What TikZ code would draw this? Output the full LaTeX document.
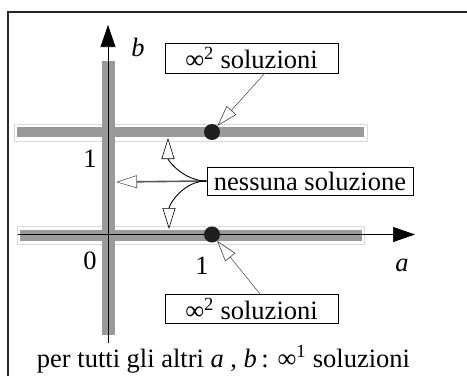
\documentclass[tikz,border=0pt]{standalone}
\usepackage{fontspec}
\setmainfont{Liberation Serif}
\usetikzlibrary{arrows.meta}
\tikzset{
  txt/.style={font=\fontsize{26.5}{30}\selectfont, inner sep=0pt},
  box/.style={txt, draw, line width=1pt, inner sep=0pt},
  band/.style={fill=black!40, draw=none},
  bandout/.style={draw=black!15, line width=0.6pt, fill=white},
  dot/.style={circle, fill=black!88, minimum size=16pt, inner sep=0pt},
  axis/.style={line width=0.7pt, -{Triangle[length=22pt, width=15pt]}},
  opentip/.style={-{Triangle[open, length=21pt, width=13pt, line width=0.6pt, fill=white]}},
  thinarrow/.style={opentip, draw=black!75, line width=0.5pt},
  curvearrow/.style={opentip, draw=black, line width=0.9pt},
  straightarrow/.style={-{Triangle[open, length=21pt, width=13pt, line width=0.6pt]}, draw=black!65, line width=1.6pt},
}
\begin{document}
\begin{tikzpicture}[x=1pt, y=-1pt]
\useasboundingbox (0,0) rectangle (467,376);
% frame (only top and left visible)
\draw[line width=2pt, black!85] (8,376) -- (8,12) -- (467,12);
% bands
\draw[bandout] (14,124) rectangle (367,141);
\fill[band] (17,127) rectangle (364,137);
\draw[bandout] (17,226) rectangle (364,244);
\fill[band] (20,229.5) rectangle (362,241);
\fill[band] (102,61) rectangle (115,335);
% axes
\coordinate (vb) at (108,343);
\coordinate (vt) at (108,25);
\coordinate (hl) at (18,234.5);
\coordinate (hr) at (415,234.5);
\draw[axis] (vb) -- (vt);
\draw[axis] (hl) -- (hr);
% dots
\node[dot] (d1) at (212,132) {};
\node[dot] (d2) at (212,234.5) {};
% labels
\node[txt] (lb) at (138,47) {\textit{b}};
\node[txt] (la) at (402,265) {\textit{a}};
\node[txt] (l1v) at (90,158.5) {1};
\node[txt] (l0) at (90,261) {0};
\node[txt] (l1h) at (202,266) {1};
% boxes
\node[box, minimum width=173pt, minimum height=30pt] (b1) at (251.5,58) {∞\textsuperscript{2} soluzioni};
\node[box, minimum width=206pt, minimum height=28pt] (b2) at (310,181) {nessuna soluzione};
\node[box, minimum width=173pt, minimum height=29pt] (b3) at (251.5,308.5) {∞\textsuperscript{2} soluzioni};
% arrows
\coordinate (s1) at (265,73);
\coordinate (s3) at (260,294);
\draw[thinarrow] (s1) -- (d1);
\draw[thinarrow] (s3) -- (d2);
\coordinate (tl) at (116,182);
\coordinate (tu) at (168,138);
\coordinate (td) at (169,229);
\draw[straightarrow] (b2.west) -- (tl);
\draw[curvearrow] (b2.west) to[out=180, in=-90] (tu);
\draw[curvearrow] (b2.west) to[out=180, in=90] (td);
% bottom text
\node[txt, anchor=base] (bt) at (223.5,367) {per tutti gli altri \textit{a} , \textit{b}\,: ∞\textsuperscript{1} soluzioni};
\end{tikzpicture}
\end{document}
